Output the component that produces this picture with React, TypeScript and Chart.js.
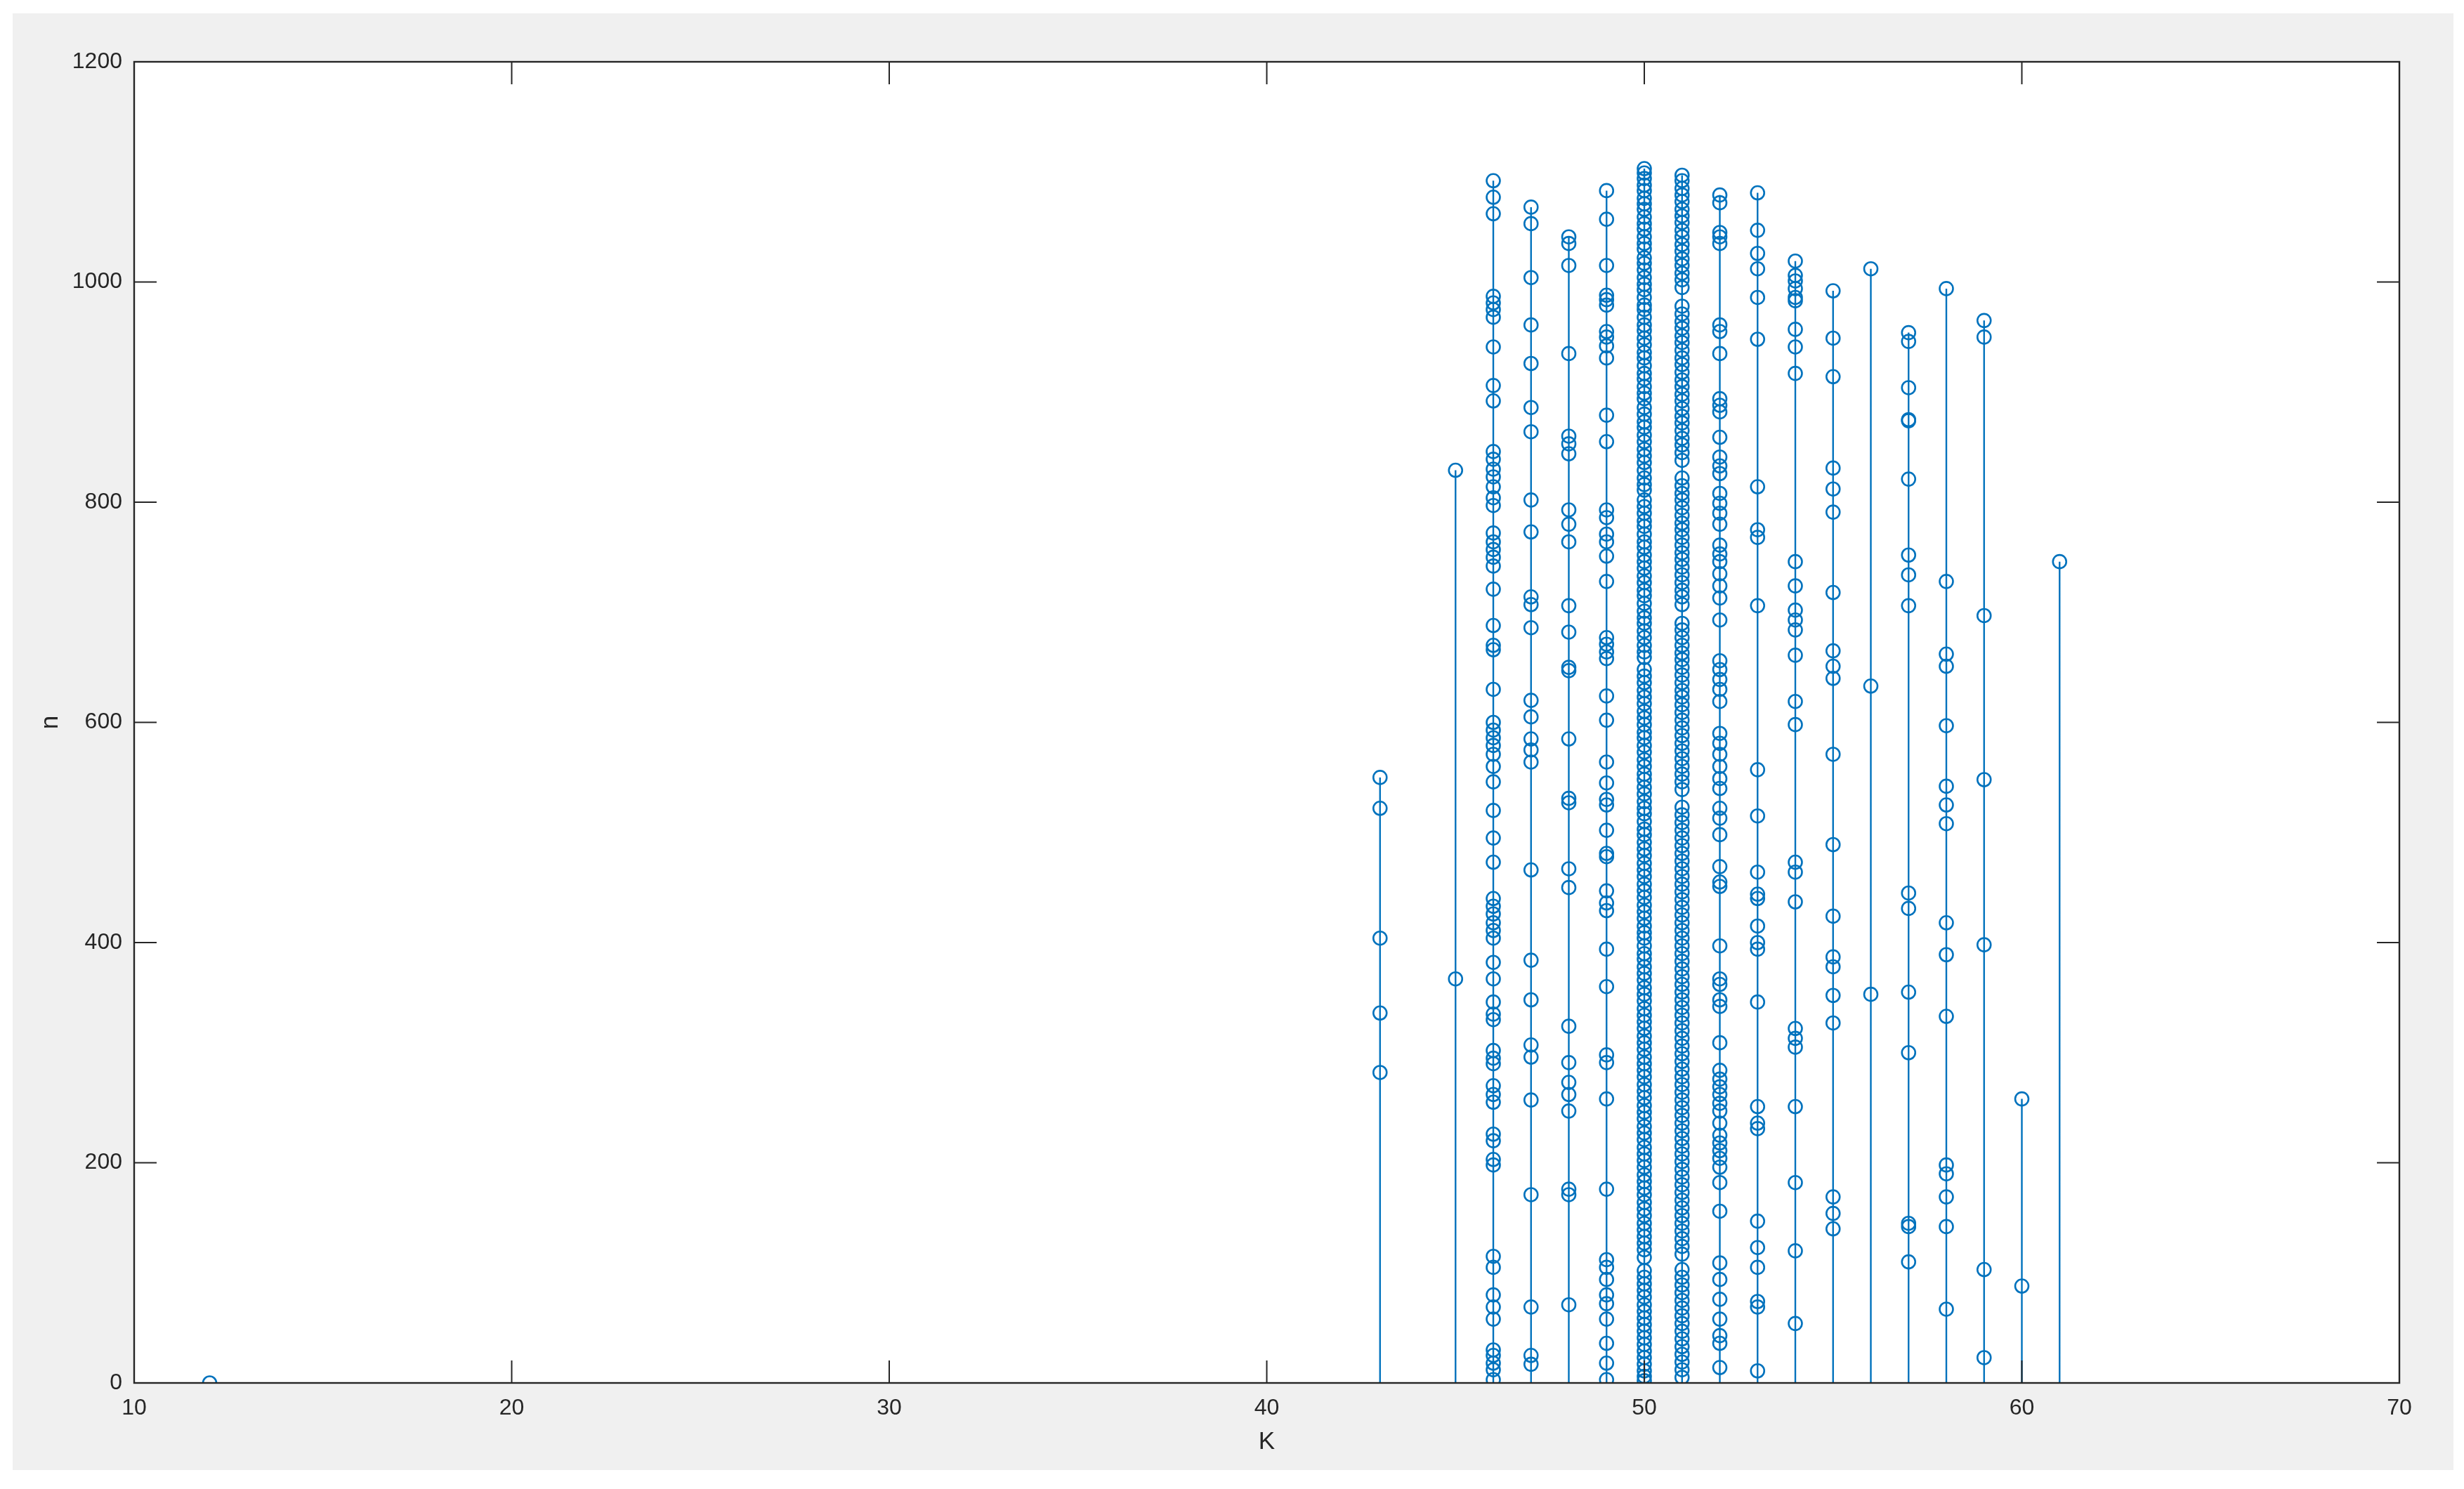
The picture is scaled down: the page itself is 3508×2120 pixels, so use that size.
import React, { useEffect, useRef } from "react";
import { Chart, registerables } from "chart.js";

Chart.register(...registerables);

// ---- data ----
const xTicks = [10, 20, 30, 40, 50, 60, 70];
const yTicks = [0, 200, 400, 600, 800, 1000, 1200];

const n12 = [0];
const n43 = [550, 522, 404, 336, 282];
const n45 = [829, 367];
const n46 = [1092, 1077, 1062, 987, 981, 975, 968, 941, 906, 892, 846, 839, 830, 823, 814, 804, 797, 772, 764, 757, 750, 742, 721, 688, 670, 666, 630, 600, 593, 586, 579, 571, 560, 546, 520, 495, 473, 440, 433, 426, 418, 411, 404, 382, 367, 346, 335, 330, 302, 295, 290, 270, 262, 255, 226, 220, 203, 198, 115, 105, 80, 69, 58, 30, 25, 18, 12, 3];
const n47 = [1068, 1053, 1004, 961, 926, 886, 864, 802, 773, 714, 707, 686, 620, 605, 585, 575, 564, 466, 384, 348, 307, 296, 257, 171, 69, 25, 17];
const n48 = [1041, 1035, 1015, 935, 860, 853, 844, 793, 780, 764, 706, 682, 650, 647, 585, 531, 527, 467, 450, 324, 291, 273, 262, 247, 176, 171, 71];
const n49 = [1083, 1057, 1015, 988, 984, 979, 955, 950, 942, 931, 879, 855, 793, 786, 771, 764, 751, 728, 677, 671, 664, 658, 624, 602, 564, 545, 530, 525, 502, 481, 478, 447, 436, 429, 394, 360, 298, 291, 258, 176, 112, 105, 94, 80, 72, 58, 36, 18, 3];
const n50 = [1103, 1099, 1094, 1088, 1083, 1076, 1071, 1066, 1059, 1053, 1048, 1041, 1035, 1030, 1022, 1017, 1011, 1004, 998, 993, 986, 979, 975, 968, 961, 956, 949, 943, 936, 931, 924, 917, 912, 905, 899, 894, 886, 880, 873, 868, 861, 855, 848, 842, 836, 829, 822, 816, 811, 802, 796, 790, 783, 778, 771, 764, 759, 752, 746, 740, 733, 727, 720, 715, 708, 701, 695, 690, 683, 677, 670, 664, 659, 648, 642, 636, 629, 623, 617, 610, 604, 598, 591, 586, 579, 573, 566, 560, 553, 548, 541, 535, 528, 522, 517, 510, 503, 498, 491, 485, 479, 472, 466, 460, 453, 447, 441, 434, 428, 422, 415, 409, 404, 397, 390, 385, 378, 372, 366, 359, 353, 347, 340, 334, 328, 322, 315, 309, 303, 296, 290, 284, 278, 271, 265, 259, 252, 246, 240, 233, 227, 221, 214, 208, 202, 196, 189, 183, 177, 171, 164, 158, 152, 145, 139, 133, 127, 121, 114, 102, 96, 90, 84, 78, 71, 65, 59, 53, 47, 41, 35, 29, 23, 17, 11, 6, 2];
const n51 = [1097, 1092, 1085, 1079, 1073, 1066, 1060, 1054, 1047, 1041, 1034, 1028, 1021, 1015, 1008, 1002, 995, 978, 971, 964, 958, 951, 945, 938, 931, 925, 918, 911, 905, 898, 892, 885, 878, 872, 865, 858, 852, 845, 838, 822, 815, 808, 802, 795, 788, 781, 775, 768, 761, 754, 748, 741, 734, 727, 720, 714, 707, 690, 684, 677, 670, 663, 657, 650, 643, 636, 629, 623, 616, 609, 602, 595, 588, 581, 574, 567, 560, 553, 546, 539, 523, 516, 509, 502, 495, 488, 481, 474, 467, 460, 453, 446, 439, 432, 425, 418, 411, 404, 397, 390, 383, 376, 369, 362, 355, 348, 341, 334, 327, 320, 313, 306, 299, 292, 285, 278, 271, 264, 257, 250, 243, 236, 229, 222, 215, 208, 201, 194, 187, 180, 173, 166, 159, 152, 145, 138, 131, 124, 117, 103, 96, 89, 82, 75, 68, 61, 54, 47, 40, 33, 26, 19, 12, 5];
const n52 = [1079, 1072, 1045, 1041, 1035, 961, 955, 935, 894, 888, 882, 859, 841, 833, 826, 808, 799, 790, 780, 761, 753, 746, 735, 724, 713, 693, 656, 648, 639, 630, 619, 590, 581, 571, 560, 549, 540, 522, 513, 498, 469, 455, 451, 397, 367, 362, 348, 342, 309, 284, 276, 269, 262, 254, 247, 236, 225, 218, 211, 204, 196, 182, 156, 109, 94, 76, 58, 43, 36, 14];
const n53 = [1081, 1047, 1026, 1012, 986, 948, 814, 775, 768, 706, 557, 515, 464, 444, 440, 415, 400, 394, 346, 251, 236, 231, 147, 123, 105, 74, 69, 11];
const n54 = [1019, 1006, 1001, 994, 986, 983, 957, 941, 917, 746, 724, 702, 693, 684, 661, 619, 598, 473, 464, 437, 322, 313, 305, 251, 182, 120, 54];
const n55 = [992, 949, 914, 831, 812, 791, 718, 665, 651, 640, 571, 489, 424, 387, 378, 352, 327, 169, 154, 140];
const n56 = [1012, 633, 353];
const n57 = [954, 946, 904, 875, 874, 821, 752, 734, 706, 445, 431, 355, 300, 145, 142, 110];
const n58 = [994, 728, 662, 651, 597, 542, 525, 508, 418, 389, 333, 198, 190, 169, 142, 67];
const n59 = [965, 950, 697, 548, 398, 103, 23];
const n60 = [258, 88];
const n61 = [746];

const kValues = [12, 43, 45, 46, 47, 48, 49, 50, 51, 52, 53, 54, 55, 56, 57, 58, 59, 60, 61];
const nByK = [n12, n43, n45, n46, n47, n48, n49, n50, n51, n52, n53, n54, n55, n56, n57, n58, n59, n60, n61];

const BLUE = "#0072BD";
const AXIS = "#262626";
const FONT = "'Liberation Sans', Arial, sans-serif";

export default function App() {
  const ref = useRef<HTMLCanvasElement>(null);

  useEffect(() => {
    document.body.style.margin = "0";
    const canvas = ref.current;
    if (!canvas) return;

    const points: { x: number; y: number }[] = [];
    const stems: { x: number; y: number | null }[] = [];
    kValues.forEach((k, i) => {
      nByK[i].forEach((v) => {
        points.push({ x: k, y: v });
        stems.push({ x: k, y: 0 });
        stems.push({ x: k, y: v });
        stems.push({ x: k, y: null });
      });
    });

    const boxPlugin = {
      id: "matlabBox",
      beforeDatasetsDraw(chart: any) {
        const { ctx, chartArea: a } = chart;
        ctx.save();
        ctx.fillStyle = "#ffffff";
        ctx.fillRect(a.left, a.top, a.right - a.left, a.bottom - a.top);
        ctx.restore();
      },
      afterDatasetsDraw(chart: any) {
        const { ctx, chartArea: a, scales } = chart;
        const tl = 32;
        ctx.save();
        ctx.strokeStyle = AXIS;
        ctx.lineWidth = 2;
        ctx.beginPath();
        xTicks.forEach((t) => {
          const px = scales.x.getPixelForValue(t);
          ctx.moveTo(px, a.bottom);
          ctx.lineTo(px, a.bottom - tl);
          ctx.moveTo(px, a.top);
          ctx.lineTo(px, a.top + tl);
        });
        yTicks.forEach((t) => {
          const py = scales.y.getPixelForValue(t);
          ctx.moveTo(a.left, py);
          ctx.lineTo(a.left + tl, py);
          ctx.moveTo(a.right, py);
          ctx.lineTo(a.right - tl, py);
        });
        ctx.stroke();
        ctx.lineWidth = 2.4;
        ctx.strokeRect(a.left, a.top, a.right - a.left, a.bottom - a.top);
        ctx.restore();
      },
    };

    const chart = new Chart(canvas, {
      type: "scatter",
      data: {
        datasets: [
          {
            type: "line",
            data: stems as any,
            borderColor: BLUE,
            borderWidth: 2.4,
            pointRadius: 0,
            spanGaps: false,
            fill: false,
            showLine: true,
          } as any,
          {
            type: "scatter",
            data: points,
            pointStyle: "circle",
            pointRadius: 9.5,
            pointBorderWidth: 2.6,
            borderColor: BLUE,
            backgroundColor: "rgba(0,0,0,0)",
            pointBackgroundColor: "rgba(0,0,0,0)",
            pointBorderColor: BLUE,
          } as any,
        ],
      },
      plugins: [boxPlugin],
      options: {
        animation: false,
        responsive: false,
        devicePixelRatio: 1,
        events: [],
        layout: { padding: { top: 69, right: 77, left: 0, bottom: 0 } },
        plugins: {
          legend: { display: false },
          tooltip: { enabled: false },
        },
        scales: {
          x: {
            type: "linear",
            min: 10,
            max: 70,
            afterFit: (s: any) => {
              s.height = 124;
            },
            afterBuildTicks: (s: any) => {
              s.ticks = xTicks.map((v) => ({ value: v }));
            },
            grid: { display: false, drawTicks: false },
            border: { display: false },
            ticks: {
              color: AXIS,
              font: { family: FONT, size: 32 },
              padding: 17,
              maxRotation: 0,
              autoSkip: false,
              callback: (v: any) => String(v),
            },
            title: {
              display: true,
              text: "K",
              color: AXIS,
              font: { family: FONT, size: 35 },
              padding: { top: 0, bottom: 19 },
            },
          },
          y: {
            type: "linear",
            min: 0,
            max: 1200,
            afterFit: (s: any) => {
              s.width = 173;
            },
            afterBuildTicks: (s: any) => {
              s.ticks = yTicks.map((v) => ({ value: v }));
            },
            grid: { display: false, drawTicks: false },
            border: { display: false },
            ticks: {
              color: AXIS,
              font: { family: FONT, size: 32 },
              padding: 17,
              autoSkip: false,
              callback: (v: any) => String(v),
            },
            title: {
              display: true,
              text: "n",
              color: AXIS,
              font: { family: FONT, size: 35 },
              padding: { top: 33, bottom: 0 },
            },
          },
        },
      } as any,
    });

    return () => chart.destroy();
  }, []);

  return (
    <div style={{ position: "fixed", left: 0, top: 0, width: 3508, height: 2120, background: "#ffffff" }}>
      <div style={{ position: "absolute", left: 18, top: 19, width: 3475, height: 2074, background: "#f0f0f0" }}>
        <canvas ref={ref} width={3475} height={2074} style={{ display: "block", width: 3475, height: 2074 }} />
      </div>
    </div>
  );
}
